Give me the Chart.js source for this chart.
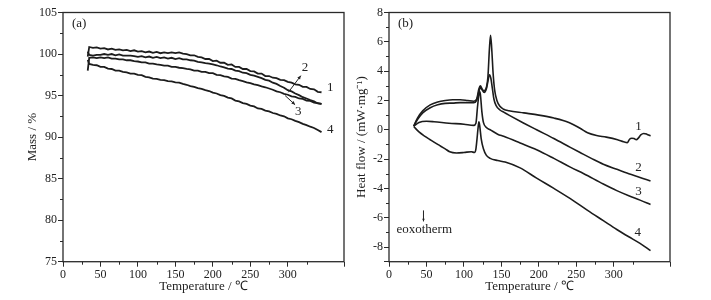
<!DOCTYPE html>
<html>
<head>
<meta charset="utf-8">
<script src="https://cdn.jsdelivr.net/npm/chart.js@4.4.0/dist/chart.umd.min.js"></script>
<style>
  body { margin: 0; background: #fff; }
  #wrap { position: relative; width: 711px; height: 300px; }
  .box { position: absolute; top: 0; height: 300px; }
</style>
</head>
<body>
<div id="wrap">
  <div class="box" style="left:0;width:352px"><canvas id="tga"></canvas></div>
  <div class="box" style="left:352px;width:359px"><canvas id="dsc"></canvas></div>
</div>
<script>
// (a) TG curves: temperature (°C) and mass (%)
const tgaTemp = [33,35,40,45,50,55,60,65,70,75,80,85,90,95,100,105,110,115,120,125,130,135,140,145,150,155,160,165,170,175,180,185,190,195,200,205,210,215,220,225,230,235,240,245,250,255,260,265,270,275,280,285,290,295,300,305,310,315,320,325,330,335,340,345];
const mass1 = [99.7,100.85,100.75,100.8,100.65,100.7,100.55,100.65,100.5,100.55,100.45,100.5,100.35,100.45,100.3,100.35,100.2,100.3,100.15,100.25,100.1,100.2,100.1,100.2,100.1,100.2,100.05,100.0,99.85,99.85,99.65,99.6,99.4,99.4,99.15,99.2,98.95,98.95,98.7,98.75,98.45,98.45,98.2,98.2,97.95,97.9,97.65,97.65,97.35,97.35,97.15,97.1,96.9,96.85,96.65,96.55,96.35,96.3,96.05,96.05,95.8,95.75,95.45,95.4];
const mass2 = [100.3,99.9,99.8,99.9,99.9,100.0,99.9,100.0,99.85,99.95,99.8,99.8,99.8,99.75,99.65,99.75,99.6,99.7,99.55,99.65,99.5,99.6,99.45,99.55,99.4,99.5,99.35,99.35,99.25,99.2,99.05,99.0,98.9,98.85,98.75,98.65,98.5,98.4,98.25,98.2,98.0,97.95,97.75,97.7,97.5,97.4,97.25,97.1,96.9,96.8,96.55,96.4,96.15,95.95,95.65,95.5,95.25,95.05,94.8,94.65,94.45,94.3,94.05,94.0];
const mass3 = [98.0,99.55,99.6,99.5,99.6,99.5,99.6,99.45,99.45,99.35,99.35,99.25,99.25,99.15,99.1,99.0,99.0,98.85,98.85,98.75,98.7,98.6,98.6,98.45,98.45,98.35,98.3,98.2,98.15,98.0,98.0,97.85,97.85,97.7,97.7,97.5,97.45,97.3,97.25,97.05,97.0,96.85,96.75,96.6,96.5,96.35,96.25,96.1,96.0,95.85,95.7,95.5,95.4,95.2,95.1,94.9,94.85,94.65,94.6,94.4,94.35,94.15,94.1,94.0];
const mass4 = [99.3,98.8,98.7,98.65,98.45,98.45,98.25,98.2,98.0,98.0,97.85,97.8,97.65,97.65,97.5,97.45,97.25,97.2,97.05,97.0,96.9,96.85,96.75,96.7,96.6,96.55,96.4,96.3,96.15,96.05,95.9,95.8,95.65,95.55,95.35,95.25,95.05,94.95,94.75,94.65,94.4,94.3,94.1,94.0,93.8,93.7,93.45,93.4,93.2,93.1,92.9,92.8,92.6,92.5,92.25,92.15,91.95,91.8,91.6,91.45,91.25,91.1,90.85,90.6];

// (b) DSC curves: temperature (°C) and heat flow (mW/mg)
const dsc1T = [33,38,45,55,65,75,85,95,105,113,117,120,122,124,127,130,132,134,135.5,137,139,141,144,148,153,160,180,200,220,240,255,265,277,290,305,313,318,321,324,327,330,333,336,340,344,349];
const dsc1H = [0.25,0.8,1.3,1.7,1.9,2.0,2.05,2.05,2.0,1.95,2.1,2.8,3.0,2.8,2.65,2.9,3.6,5.5,6.45,5.6,3.8,2.7,2.0,1.6,1.4,1.3,1.15,1.0,0.8,0.5,0.1,-0.2,-0.39,-0.5,-0.68,-0.82,-0.88,-0.65,-0.58,-0.6,-0.68,-0.55,-0.35,-0.25,-0.3,-0.42];
const dsc2T = [33,38,45,55,65,75,85,95,105,113,117,120,122,124,127,130,132,134,136,138,140,143,148,153,160,180,197,220,242,255,270,286,304,320,335,349];
const dsc2H = [0.25,0.7,1.15,1.5,1.7,1.8,1.82,1.85,1.85,1.85,2.0,2.6,2.9,2.75,2.55,2.8,3.3,3.75,3.5,2.8,2.1,1.65,1.35,1.2,1.0,0.45,0.0,-0.6,-1.2,-1.55,-1.95,-2.35,-2.7,-3.0,-3.25,-3.5];
const dsc3T = [33,40,50,60,80,100,113,116,118,120,121,122,124,126,130,135,145,153,175,197,220,242,260,286,304,320,335,349];
const dsc3H = [0.25,0.5,0.58,0.55,0.45,0.38,0.3,0.45,1.5,2.4,2.6,2.4,1.2,0.5,0.15,0.0,-0.3,-0.45,-0.9,-1.36,-1.95,-2.55,-3.0,-3.7,-4.15,-4.5,-4.8,-5.1];
const dsc4T = [33,40,48,55,65,75,81,90,100,110,114,116,117.5,119,120,121,123,126,130,135,145,155,175,197,220,242,265,286,304,320,335,349];
const dsc4H = [0.22,-0.15,-0.45,-0.68,-1.0,-1.3,-1.5,-1.58,-1.55,-1.5,-1.55,-1.3,-0.6,0.2,0.55,0.3,-0.6,-1.3,-1.75,-1.95,-2.1,-2.2,-2.6,-3.3,-4.0,-4.7,-5.5,-6.2,-6.8,-7.3,-7.75,-8.25];

const curveNames = ['1', '2', '3', '4'];
const serif = "'Liberation Serif', 'Times New Roman', serif";
const ink = '#1c1c1c';

function pts(xs, ys) {
  return xs.map((v, i) => ({ x: v, y: ys[i] }));
}

function lineSet(xs, ys, smooth) {
  return {
    data: pts(xs, ys),
    borderColor: ink,
    borderWidth: smooth ? 1.6 : 1.8,
    pointRadius: 0,
    tension: 0,
    cubicInterpolationMode: smooth ? 'monotone' : 'default'
  };
}

// frame, minor ticks, curve labels and arrows
const decor = {
  id: 'decor',
  afterDraw(chart, args, o) {
    const { ctx, chartArea: a, scales: { x, y } } = chart;
    ctx.save();
    ctx.strokeStyle = '#2a2a2a';
    ctx.lineWidth = 1.3;
    ctx.strokeRect(a.left, a.top, a.right - a.left, a.bottom - a.top);

    ctx.lineWidth = 1;
    ctx.beginPath();
    for (let v = o.xFrom; v < x.max; v += o.xStep) {
      const px = Math.round(x.getPixelForValue(v)) + 0.5;
      ctx.moveTo(px, a.bottom);
      ctx.lineTo(px, a.bottom + 3);
    }
    for (let v = o.yFrom; v < y.max; v += o.yStep) {
      const py = Math.round(y.getPixelForValue(v)) + 0.5;
      ctx.moveTo(a.left, py);
      ctx.lineTo(a.left - 3, py);
    }
    ctx.stroke();

    ctx.fillStyle = '#222';
    ctx.textBaseline = 'middle';
    ctx.font = '13px ' + serif;
    ctx.textAlign = 'left';
    ctx.fillText(o.panel, a.left + 9, a.top + 11.5);

    ctx.textAlign = 'center';
    o.texts.forEach(t => {
      ctx.font = (t.size || 13) + 'px ' + serif;
      ctx.fillText(t.text, x.getPixelForValue(t.x), y.getPixelForValue(t.y));
    });

    ctx.strokeStyle = '#222';
    ctx.lineWidth = 1;
    o.arrows.forEach(ar => {
      const x1 = x.getPixelForValue(ar.from[0]), y1 = y.getPixelForValue(ar.from[1]);
      const x2 = x.getPixelForValue(ar.to[0]), y2 = y.getPixelForValue(ar.to[1]);
      const ang = Math.atan2(y2 - y1, x2 - x1);
      const h = ar.head || 4;
      ctx.beginPath();
      ctx.moveTo(x1, y1);
      ctx.lineTo(x2, y2);
      ctx.stroke();
      ctx.beginPath();
      ctx.moveTo(x2, y2);
      ctx.lineTo(x2 - h * Math.cos(ang - 0.45), y2 - h * Math.sin(ang - 0.45));
      ctx.lineTo(x2 - h * Math.cos(ang + 0.45), y2 - h * Math.sin(ang + 0.45));
      ctx.closePath();
      ctx.fill();
    });
    ctx.restore();
  }
};

function axisX(titleText) {
  return {
    type: 'linear',
    min: 0,
    max: 375,
    border: { display: false },
    grid: { drawOnChartArea: false, tickLength: 5, color: '#2a2a2a' },
    ticks: {
      stepSize: 50,
      padding: 1,
      color: '#222',
      font: { family: serif, size: 12 },
      maxRotation: 0,
      callback: v => (v % 50 === 0 ? v : '')
    },
    title: {
      display: true,
      text: titleText,
      color: '#222',
      font: { family: serif, size: 13 },
      padding: { top: 0, bottom: 5.5 }
    },
    afterFit: s => { s.height = 38.3; }
  };
}

function axisY(min, max, step, titleText, titleGap, width) {
  return {
    type: 'linear',
    min: min,
    max: max,
    border: { display: false },
    grid: { drawOnChartArea: false, tickLength: 5, color: '#2a2a2a' },
    ticks: {
      stepSize: step,
      padding: 1,
      color: '#222',
      font: { family: serif, size: 12 },
      callback: v => (v % step === 0 ? v : '')
    },
    title: {
      display: true,
      text: titleText,
      color: '#222',
      font: { family: serif, size: 13 },
      padding: { top: titleGap, bottom: 0 }
    },
    afterFit: s => { s.width = width; }
  };
}

const common = {
  responsive: true,
  maintainAspectRatio: false,
  animation: false,
  events: []
};

new Chart(document.getElementById('tga'), {
  type: 'line',
  data: {
    datasets: [
      lineSet(tgaTemp, mass1, false),
      lineSet(tgaTemp, mass2, false),
      lineSet(tgaTemp, mass3, false),
      lineSet(tgaTemp, mass4, false)
    ]
  },
  options: Object.assign({}, common, {
    layout: { padding: { top: 12.5, right: 8, bottom: 0, left: 0 } },
    scales: {
      x: axisX('Temperature / ℃'),
      y: axisY(75, 105, 5, 'Mass / %', 25.2, 63)
    },
    plugins: {
      legend: { display: false },
      tooltip: { enabled: false },
      decor: {
        panel: '(a)',
        xFrom: 25, xStep: 50,
        yFrom: 77.5, yStep: 5,
        texts: [
          { text: curveNames[0], x: 356.5, y: 96.0 },
          { text: curveNames[1], x: 323, y: 98.4 },
          { text: curveNames[2], x: 314, y: 93.1 },
          { text: curveNames[3], x: 356.5, y: 90.9 }
        ],
        arrows: [
          { from: [300.8, 95.4], to: [317.4, 97.4] },
          { from: [296.4, 95.0], to: [309.7, 93.9] }
        ]
      }
    }
  }),
  plugins: [decor]
});

new Chart(document.getElementById('dsc'), {
  type: 'line',
  data: {
    datasets: [
      lineSet(dsc1T, dsc1H, true),
      lineSet(dsc2T, dsc2H, true),
      lineSet(dsc3T, dsc3H, true),
      lineSet(dsc4T, dsc4H, true)
    ]
  },
  options: Object.assign({}, common, {
    layout: { padding: { top: 12.5, right: 41, bottom: 0, left: 0 } },
    scales: {
      x: axisX('Temperature / ℃'),
      y: axisY(-9, 8, 2, 'Heat flow / (mW·mg⁻¹)', 2.2, 37)
    },
    plugins: {
      legend: { display: false },
      tooltip: { enabled: false },
      decor: {
        panel: '(b)',
        xFrom: 25, xStep: 50,
        yFrom: -7, yStep: 2,
        texts: [
          { text: curveNames[0], x: 333, y: 0.22 },
          { text: curveNames[1], x: 333, y: -2.6 },
          { text: curveNames[2], x: 333, y: -4.2 },
          { text: curveNames[3], x: 332, y: -7.03 },
          { text: 'eoxotherm', x: 47, y: -6.8 }
        ],
        arrows: [
          { from: [46, -5.5], to: [46, -6.25], head: 3 }
        ]
      }
    }
  }),
  plugins: [decor]
});
</script>
</body>
</html>
